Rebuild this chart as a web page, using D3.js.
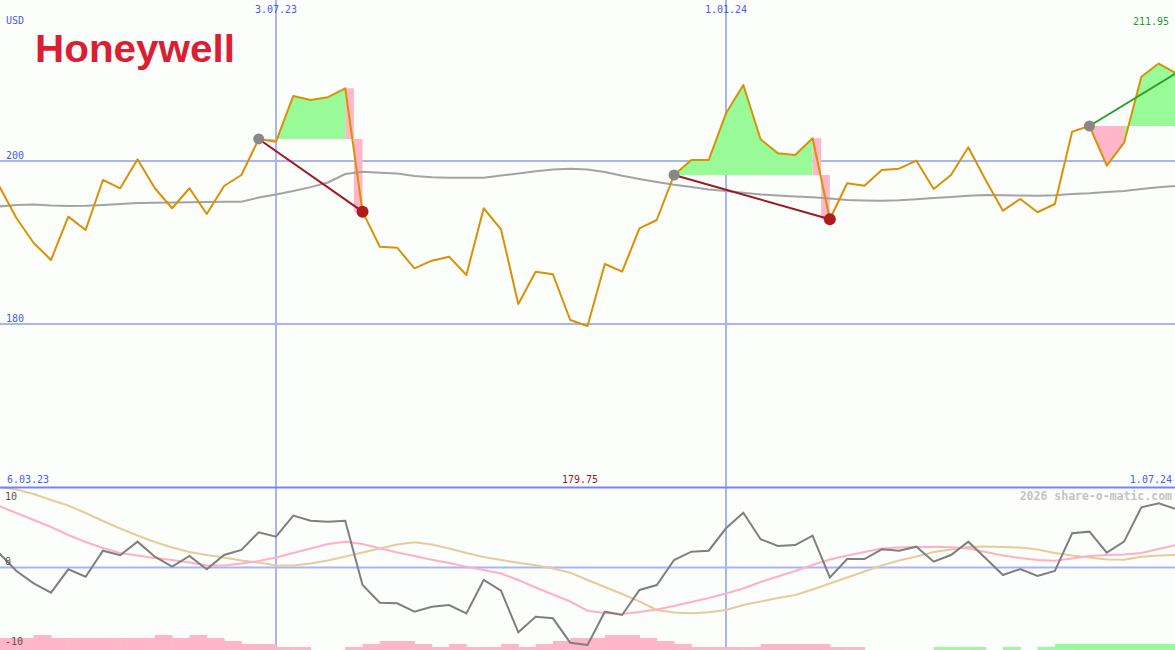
<!DOCTYPE html>
<html><head><meta charset="utf-8">
<script src="https://cdn.jsdelivr.net/npm/d3@7"></script>
<style>html,body{margin:0;padding:0;background:#fcfefc;overflow:hidden}</style>
</head><body>
<svg id="c" width="1175" height="650"></svg>
<script>
// ---------- data ----------
const startDate = "2023-03-06";
const endDate = "2024-07-01";
const price = [195.5, 196.93, 193.01, 189.94, 187.85, 193.17, 191.53, 197.67, 196.65, 200.21,
  196.65, 194.20, 196.65, 193.50, 196.93, 198.28, 202.70, 202.37, 207.98, 207.48,
  207.82, 208.92, 193.78, 189.48, 189.36, 186.83, 187.77, 188.26, 186.01, 194.20,
  191.62, 182.45, 186.42, 186.10, 180.49, 179.75, 187.36, 186.42, 191.74, 192.76,
  198.28, 200.12, 200.12, 205.85, 209.33, 202.66, 200.94, 200.74, 202.79, 192.85,
  197.26, 196.97, 198.90, 199.06, 200.04, 196.56, 198.28, 201.68, 197.67, 193.90,
  195.34, 193.71, 194.72, 203.60, 204.29, 199.42, 202.25, 210.34, 211.95, 210.76];
const priceMA = [194.36, 194.42, 194.60, 194.66, 194.54, 194.48, 194.50, 194.60, 194.72, 194.85,
  194.88, 194.91, 194.93, 194.97, 194.99, 195.01, 195.51, 195.90, 196.32, 196.79,
  197.36, 198.40, 198.67, 198.56, 198.47, 198.16, 198.00, 197.95, 197.94, 197.95,
  198.22, 198.47, 198.75, 198.96, 199.06, 198.96, 198.65, 198.18, 197.79, 197.42,
  197.09, 196.81, 196.50, 196.32, 196.11, 195.90, 195.75, 195.64, 195.55, 195.40,
  195.21, 195.15, 195.13, 195.19, 195.31, 195.46, 195.58, 195.73, 195.83, 195.80,
  195.77, 195.74, 195.79, 195.95, 196.04, 196.20, 196.32, 196.56, 196.77, 196.93];
const osc = [3.4, 1.81, -0.44, -1.98, -3.15, -0.23, -1.15, 2.10, 1.53, 3.23,
  1.35, 0.10, 1.44, -0.23, 1.56, 2.19, 4.40, 3.85, 6.48, 5.85,
  5.73, 5.85, -2.19, -4.40, -4.48, -5.53, -4.90, -4.69, -5.73, -1.56,
  -2.90, -8.10, -6.15, -6.35, -9.40, -9.69, -5.53, -5.94, -2.81, -2.19,
  0.94, 1.98, 2.10, 4.90, 6.85, 3.53, 2.69, 2.81, 3.98, -1.23,
  1.06, 1.06, 2.28, 2.10, 2.60, 0.73, 1.56, 3.23, 1.15, -0.94,
  -0.19, -1.06, -0.44, 4.28, 4.48, 1.85, 3.23, 7.53, 8.03, 7.31];
const oscFast = [8.44, 7.69, 6.81, 5.94, 5.06, 4.06, 3.19, 2.44, 1.81, 1.50,
  1.19, 0.94, 0.63, 0.25, 0.25, 0.50, 0.81, 1.25, 1.81, 2.38,
  2.94, 3.21, 2.94, 2.40, 1.88, 1.44, 0.98, 0.56, 0.11, -0.31,
  -0.76, -1.56, -2.50, -3.38, -4.25, -5.40, -5.69, -5.81, -5.56, -5.25,
  -4.81, -4.31, -3.81, -3.25, -2.63, -1.81, -1.13, -0.44, 0.31, 1.00,
  1.50, 1.94, 2.38, 2.50, 2.56, 2.60, 2.54, 2.38, 1.94, 1.50,
  1.19, 0.94, 0.85, 1.13, 1.44, 1.56, 1.63, 1.81, 2.31, 2.81];
const oscSlow = [10.19, 10.00, 9.75, 9.19, 8.44, 7.75, 6.81, 5.81, 4.88, 4.00,
  3.19, 2.50, 1.94, 1.56, 1.25, 0.88, 0.63, 0.25, 0.25, 0.50,
  0.88, 1.38, 1.88, 2.38, 2.88, 3.15, 2.88, 2.38, 1.81, 1.31,
  0.94, 0.59, 0.28, -0.13, -0.65, -1.56, -2.44, -3.31, -4.23, -5.31,
  -5.63, -5.73, -5.60, -5.31, -4.69, -4.25, -3.81, -3.44, -2.75, -2.00,
  -1.25, -0.50, 0.25, 0.88, 1.38, 1.94, 2.25, 2.56, 2.63, 2.56,
  2.50, 2.25, 1.81, 1.50, 1.25, 1.00, 0.96, 1.35, 1.50, 1.56];
const barLevels = [-4,-4,-4,-5,-4,-4,-4,-4,-4,-4,
  -5,-4,-5,-4,-3,-2,-2,-1,-1,0,
  0,-1,-2,-3,-3,-2,-1,-2,-1,-1,
  -2,-1,-2,-3,-4,-4,-5,-5,-4,-3,
  -2,-1,-1,-1,-1,-2,-2,-2,-2,-1,
  -1,0,0,0,0,1,1,1,0,1,
  0,1,2,2,2,2,2,2,2];
const tickDates = ["2023-07-03", "2024-01-01"];
const tickLabels = ["3.07.23", "1.01.24"];
const priceTicks = [200, 180];
const oscTicks = [10, 0, -10];
const tradeEntries = ["2023-06-26", "2023-12-11", "2024-05-27"];
const tradeExits = ["2023-08-07", "2024-02-12", null];
const startLabel = "6.03.23", endLabel = "1.07.24";
const minLabel = "179.75", maxLabel = "211.95";
const currency = "USD", company = "Honeywell", credit = "2026 share-o-matic.com";

// ---------- setup ----------
const W = 1175, H = 650;
const parse = d3.utcParse("%Y-%m-%d");
const dates = d3.utcMonday.range(parse(startDate), d3.utcDay.offset(parse(endDate), 1));
const svg = d3.select("#c");
const mono = "'DejaVu Sans Mono', monospace";

const x = d3.scaleUtc().domain([parse(tickDates[0]), parse(tickDates[1])]).range([276, 726]);
const y = d3.scaleLinear().domain([160, 219.75]).range([487, 0]);
const yo = d3.scaleLinear().domain([-10, 10]).range([647.5, 487.5]);
const yb = d3.scaleLinear().domain([0, 5]).range([650, 635]);

const defs = svg.append("defs");
defs.append("clipPath").attr("id", "clipMain").append("rect").attr("x", 0).attr("y", 0).attr("width", W).attr("height", 487);
defs.append("clipPath").attr("id", "clipLow").append("rect").attr("x", 0).attr("y", 488).attr("width", W).attr("height", H - 488);

const gridC = "#a9b4f3";
svg.selectAll(".vg").data(tickDates).join("line")
  .attr("x1", d => x(parse(d))).attr("x2", d => x(parse(d)))
  .attr("y1", 0).attr("y2", H).attr("stroke", gridC).attr("stroke-width", 2);
svg.selectAll(".hg").data(priceTicks).join("line")
  .attr("x1", 0).attr("x2", W).attr("y1", d => y(d)).attr("y2", d => y(d))
  .attr("stroke", gridC).attr("stroke-width", 2);
svg.append("line").attr("x1", 0).attr("x2", W).attr("y1", yo(0)).attr("y2", yo(0))
  .attr("stroke", gridC).attr("stroke-width", 2);

// ---------- main panel ----------
const gMain = svg.append("g").attr("clip-path", "url(#clipMain)");
const pts = dates.map((d, i) => ({ date: d, v: price[i] }));
const green = "#98fb98", pink = "#ffb6c8";
const idxOf = s => dates.findIndex(d => +d === +parse(s));

const trades = tradeEntries.map((e, ti) => {
  const ei = idxOf(e);
  const xi = tradeExits[ti] ? idxOf(tradeExits[ti]) : dates.length - 1;
  return { ei, xi, closed: !!tradeExits[ti] };
});

const fillD = { [green]: "", [pink]: "" };
trades.forEach(t => {
  const level = price[t.ei];
  for (let i = t.ei; i < t.xi; i++) {
    const isExit = t.closed && i + 1 === t.xi;
    const color = isExit ? (price[t.xi] >= level ? green : pink) : (price[i + 1] >= level ? green : pink);
    const area = d3.area().x(d => x(d.date)).y0(y(level)).y1(d => y(d.v))
      .curve(isExit ? d3.curveStep : d3.curveLinear);
    fillD[color] += area([pts[i], pts[i + 1]]);
  }
});
[pink, green].forEach(c => gMain.append("path").attr("d", fillD[c]).attr("fill", c));

gMain.append("path").datum(dates.map((d, i) => ({ date: d, v: priceMA[i] })))
  .attr("d", d3.line().x(d => x(d.date)).y(d => y(d.v)))
  .attr("fill", "none").attr("stroke", "#a3a3a3").attr("stroke-width", 2);

gMain.append("path").datum(pts)
  .attr("d", d3.line().x(d => x(d.date)).y(d => y(d.v)))
  .attr("fill", "none").attr("stroke", "#da9103").attr("stroke-width", 2).attr("stroke-linejoin", "round");

trades.forEach(t => {
  const up = price[t.xi] >= price[t.ei];
  gMain.append("line")
    .attr("x1", x(dates[t.ei])).attr("y1", y(price[t.ei]))
    .attr("x2", x(dates[t.xi])).attr("y2", y(price[t.xi]))
    .attr("stroke", up ? "#2aa02a" : "#a01622")
    .attr("stroke-width", 2);
});
trades.forEach(t => {
  gMain.append("circle").attr("cx", x(dates[t.ei])).attr("cy", y(price[t.ei])).attr("r", 5.5).attr("fill", "#888");
  if (t.closed) gMain.append("circle").attr("cx", x(dates[t.xi])).attr("cy", y(price[t.xi])).attr("r", 6).attr("fill", "#b01c1c");
});

// ---------- lower panel ----------
const gLow = svg.append("g").attr("clip-path", "url(#clipLow)");
gLow.selectAll(".bar").data(barLevels.map((v, i) => ({ v, i })).filter(d => d.v !== 0)).join("rect")
  .attr("x", d => x(dates[d.i])).attr("width", d => x(dates[d.i + 1]) - x(dates[d.i]) + 0.5)
  .attr("y", d => yb(Math.abs(d.v))).attr("height", d => yb(0) - yb(Math.abs(d.v)))
  .attr("fill", d => d.v < 0 ? pink : green);

const lo = arr => d3.line().x((d, i) => x(dates[i])).y(d => yo(d))(arr);
gLow.append("path").attr("d", lo(oscSlow)).attr("fill", "none").attr("stroke", "#e6cb9c").attr("stroke-width", 2);
gLow.append("path").attr("d", lo(oscFast)).attr("fill", "none").attr("stroke", "#ffb0c4").attr("stroke-width", 2);
gLow.append("path").attr("d", lo(osc)).attr("fill", "none").attr("stroke", "#7f7f7f").attr("stroke-width", 2);

svg.append("line").attr("x1", 0).attr("x2", W).attr("y1", 487.5).attr("y2", 487.5)
  .attr("stroke", "#7585ee").attr("stroke-width", 2);

// ---------- text ----------
const txt = (s, xx, yy, fill, anchor, size, weight) => svg.append("text")
  .attr("x", xx).attr("y", yy).attr("fill", fill).attr("text-anchor", anchor || "start")
  .attr("font-family", mono).attr("font-size", size || 10).attr("font-weight", weight || "normal").text(s);

const blue = "#4a5cf0";
txt(currency, 6, 24, blue);
priceTicks.forEach(v => txt(String(v), 6, y(v) - 2, blue));
tickDates.forEach((d, i) => txt(tickLabels[i], x(parse(d)), 13, blue, "middle"));
txt(maxLabel, 1169, 25, "#2a9a2a", "end");
txt(startLabel, 7, 483, blue);
txt(endLabel, 1172, 483, blue, "end");
txt(minLabel, 580, 483, "#9a1a1a", "middle");
txt(credit, 1172, 500, "#c4c4c4", "end", 11.5, "bold");
oscTicks.forEach(v => {
  const yy = v === 10 ? yo(v) + 12 : yo(v) - 2.5;
  txt(String(v), 5, yy, "#555");
});

svg.append("text").attr("x", 35).attr("y", 62).attr("fill", "#dc1e35")
  .attr("font-family", "'Liberation Sans', Arial, sans-serif").attr("font-weight", "bold")
  .attr("font-size", 39).attr("textLength", 200).attr("lengthAdjust", "spacingAndGlyphs")
  .text(company);
</script>
</body></html>
